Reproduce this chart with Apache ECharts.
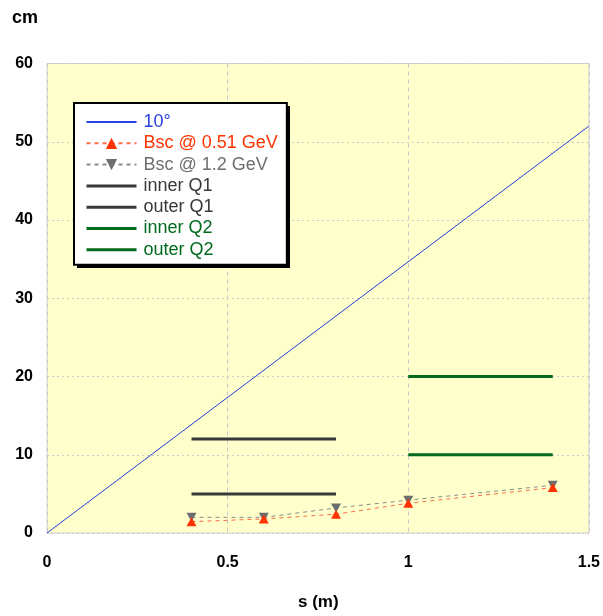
<!DOCTYPE html>
<html><head><meta charset="utf-8">
<script src="https://cdn.jsdelivr.net/npm/echarts@6/dist/echarts.min.js"></script>
<style>html,body{margin:0;padding:0;background:#fff}#c{width:603px;height:616px}</style>
</head><body><div id="c"></div>
<script>
var xTicks = [0, 0.5, 1, 1.5];
var yTicks = [0, 10, 20, 30, 40, 50, 60];
var tenDegX = [0, 1.5];
var tenDegY = [0, 52];
var bscX = [0.4, 0.6, 0.8, 1.0, 1.4];
var bsc051 = [1.45, 1.8, 2.4, 3.8, 5.8];
var bsc12 = [2.0, 2.0, 3.2, 4.2, 6.1];
var q1X = [0.4, 0.8];
var innerQ1 = [12, 12];
var outerQ1 = [5, 5];
var q2X = [1.0, 1.4];
var innerQ2 = [10, 10];
var outerQ2 = [20, 20];

function pairs(xs, ys){ return xs.map(function(x,i){return [x, ys[i]];}); }
var F = 'Liberation Sans, Arial, sans-serif';
var chart = echarts.init(document.getElementById('c'));
var names = ['10°','Bsc @ 0.51 GeV','Bsc @ 1.2 GeV','inner Q1','outer Q1','inner Q2','outer Q2'];
var colors = ['#2a3fe0','#ff3300','#6e6e6e','#383838','#383838','#006a1e','#006a1e'];
var hasSym = [false, true, true, false, false, false, false];
var thick = [false, false, false, true, true, true, true];
chart.setOption({
  animation: false,
  textStyle: {fontFamily: F},
  grid: {left: 47, right: 12, top: 63.5, bottom: 83, show: true, backgroundColor: '#ffffcc', borderColor: '#d0d0d0', borderWidth: 1},
  xAxis: {type: 'value', min: 0, max: 1.5, interval: 0.5,
    axisLine: {show: false}, axisTick: {show: false},
    axisLabel: {margin: 22, fontSize: 16, fontWeight: 'bold', color: '#000', fontFamily: F,
      formatter: function(v){ return xTicks.indexOf(v) >= 0 ? String(v) : ''; }},
    splitLine: {show: true, lineStyle: {color: '#c8c8c8', type: [4, 4], width: 1}}},
  yAxis: {type: 'value', min: 0, max: 60, interval: 10,
    axisLine: {show: false}, axisTick: {show: false},
    axisLabel: {margin: 14, fontSize: 16, fontWeight: 'bold', color: '#000', fontFamily: F,
      formatter: function(v){ return yTicks.indexOf(v) >= 0 ? String(v) : ''; }},
    splitLine: {show: true, lineStyle: {color: '#c8c8c8', type: [2, 3], width: 1}}},
  graphic: [
    {type: 'text', left: 12, top: 9, style: {text: 'cm', font: 'bold 18px ' + F, fill: '#000'}},
    {type: 'text', left: 298, top: 594, style: {text: 's (m)', font: 'bold 17px ' + F, fill: '#000'}},
    {type: 'rect', z: 1, shape: {x: 77, y: 106, width: 213, height: 162}, style: {fill: '#000'}}
  ],
  legend: {
    orient: 'vertical', left: 74, top: 103, z: 10,
    padding: [10, 9, 6, 11], itemGap: 3.3, itemWidth: 50, itemHeight: 14,
    backgroundColor: '#fff', borderColor: '#000', borderWidth: 2,
    textStyle: {fontSize: 18, lineHeight: 18, fontFamily: F, padding: [0,0,0,2]},
    data: names.map(function(n, i){
      var d = {name: n, textStyle: {color: colors[i]}};
      if (!hasSym[i]) d.itemStyle = {color: 'rgba(0,0,0,0)', borderWidth: 0, opacity: 0};
      if (thick[i]) d.lineStyle = {width: 3};
      return d;
    })
  },
  series: [
    {name: names[0], type: 'line', data: pairs(tenDegX, tenDegY), symbol: 'none', lineStyle: {color: colors[0], width: 1}, itemStyle: {color: colors[0]}},
    {name: names[1], type: 'line', data: pairs(bscX, bsc051), symbol: 'triangle', symbolSize: [10, 9], lineStyle: {color: '#ff6a4a', width: 1, type: [4, 4]}, itemStyle: {color: colors[1]}, z: 4},
    {name: names[2], type: 'line', data: pairs(bscX, bsc12), symbol: 'triangle', symbolRotate: 180, symbolSize: [10, 9], lineStyle: {color: '#8a8a8a', width: 1, type: [4, 4]}, itemStyle: {color: colors[2]}, z: 3},
    {name: names[3], type: 'line', data: pairs(q1X, innerQ1), symbol: 'none', lineStyle: {color: colors[3], width: 3}, itemStyle: {color: colors[3]}},
    {name: names[4], type: 'line', data: pairs(q1X, outerQ1), symbol: 'none', lineStyle: {color: colors[4], width: 3}, itemStyle: {color: colors[4]}},
    {name: names[5], type: 'line', data: pairs(q2X, innerQ2), symbol: 'none', lineStyle: {color: colors[5], width: 3}, itemStyle: {color: colors[5]}},
    {name: names[6], type: 'line', data: pairs(q2X, outerQ2), symbol: 'none', lineStyle: {color: colors[6], width: 3}, itemStyle: {color: colors[6]}}
  ]
});
</script></body></html>
